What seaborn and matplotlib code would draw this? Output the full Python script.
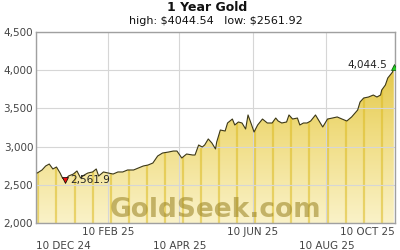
import numpy as np
import pandas as pd
import matplotlib
matplotlib.use("Agg")
import matplotlib.pyplot as plt
import matplotlib.dates as mdates
from matplotlib.colors import LinearSegmentedColormap
import seaborn as sns

# ---------------- data ----------------
dates = [
    "2024-12-13", "2024-12-17", "2024-12-20", "2024-12-23", "2024-12-26", "2024-12-29",
    "2025-01-01", "2025-01-03", "2025-01-05", "2025-01-08", "2025-01-12", "2025-01-15",
    "2025-01-18", "2025-01-21", "2025-01-24", "2025-01-28", "2025-01-31", "2025-02-02",
    "2025-02-06", "2025-02-10", "2025-02-14", "2025-02-18", "2025-02-22", "2025-02-26",
    "2025-03-03", "2025-03-07", "2025-03-11", "2025-03-15", "2025-03-19", "2025-03-23",
    "2025-03-27", "2025-04-01", "2025-04-05", "2025-04-08", "2025-04-12", "2025-04-16",
    "2025-04-21", "2025-04-23", "2025-04-26", "2025-04-29", "2025-05-01", "2025-05-04",
    "2025-05-07", "2025-05-10", "2025-05-11", "2025-05-14", "2025-05-18", "2025-05-20",
    "2025-05-24", "2025-05-26", "2025-05-29", "2025-06-01", "2025-06-04", "2025-06-06",
    "2025-06-09", "2025-06-11", "2025-06-14", "2025-06-18", "2025-06-22", "2025-06-26",
    "2025-06-29", "2025-07-01", "2025-07-04", "2025-07-08", "2025-07-10", "2025-07-13",
    "2025-07-17", "2025-07-19", "2025-07-22", "2025-07-25", "2025-07-28", "2025-08-01",
    "2025-08-05", "2025-08-07", "2025-08-11", "2025-08-15", "2025-08-19", "2025-08-23",
    "2025-08-27", "2025-08-31", "2025-09-05", "2025-09-07", "2025-09-10", "2025-09-14",
    "2025-09-18", "2025-09-21", "2025-09-24", "2025-09-25", "2025-09-28", "2025-09-30",
    "2025-10-04", "2025-10-05",
]
prices = [
    2654, 2694, 2746, 2772, 2707, 2733,
    2654, 2589, 2561.92, 2615, 2641, 2681,
    2589, 2628, 2654, 2668, 2707, 2615,
    2668, 2654, 2641, 2668, 2668, 2694,
    2694, 2720, 2746, 2759, 2785, 2877,
    2916, 2929, 2942, 2942, 2851, 2903,
    2890, 2890, 3021, 2995, 3021, 3100,
    3047, 2969, 3060, 3217, 3204, 3309,
    3361, 3283, 3322, 3309, 3230, 3414,
    3283, 3191, 3283, 3361, 3309, 3309,
    3374, 3335, 3309, 3322, 3414, 3361,
    3374, 3283, 3309, 3309, 3335, 3414,
    3309, 3257, 3361, 3374, 3388, 3361,
    3335, 3388, 3479, 3584, 3636, 3649,
    3675, 3649, 3675, 3741, 3806, 3898,
    3977, 4044.54,
]
y_ticks = [2000, 2500, 3000, 3500, 4000, 4500]
upper_tick_dates = ["2025-02-10", "2025-06-10", "2025-10-06"]
upper_tick_labels = ["10 FEB 25", "10 JUN 25", "10 OCT 25"]
lower_tick_dates = ["2024-12-12", "2025-04-10", "2025-08-10"]
lower_tick_labels = ["10 DEC 24", "10 APR 25", "10 AUG 25"]
title = "1 Year Gold"
high_val = 4044.54
low_val = 2561.92

# ---------------- figure ----------------
sns.set_style("white")
plt.rcParams["font.family"] = ["DejaVu Sans"]

df = pd.DataFrame({"date": pd.to_datetime(dates), "price": prices})

fig = plt.figure(figsize=(4, 2.5), dpi=100)
ax = fig.add_axes([36 / 400, 27 / 250, 359 / 400, 191 / 250])

xmin = pd.Timestamp("2024-12-12")
xmax = pd.Timestamp("2025-10-06")
ax.set_xlim(xmin, xmax)
ax.set_ylim(2000, 4500)

# gradient fill under the line
poly = ax.fill_between(df["date"], df["price"], 2000, color="none", lw=0)
cmap = LinearSegmentedColormap.from_list("gold", ["#faf2c8", "#efdb7c", "#dcbc2c"])
grad = np.linspace(0, 1, 256).reshape(-1, 1)
x0, x1 = mdates.date2num(xmin), mdates.date2num(xmax)
img = ax.imshow(grad, cmap=cmap, origin="lower", aspect="auto",
                extent=[x0, x1, 2000, 4500], zorder=0.8)
img.set_clip_path(poly.get_paths()[0], transform=ax.transData)

# darker vertical stripes inside the fill
for d in pd.date_range("2024-12-14", "2025-10-06", freq="15D"):
    vl = ax.axvline(d, color="#dcbb22", lw=1.6, alpha=0.55, zorder=0.9)
    vl.set_clip_path(poly.get_paths()[0], transform=ax.transData)

ax.set_ylim(2000, 4500)
ax.set_xlim(xmin, xmax)

sns.lineplot(data=df, x="date", y="price", ax=ax, color="#3c3818", lw=0.8, zorder=3)

# high / low markers
hi = df.loc[df["price"].idxmax()]
lo = df.loc[df["price"].idxmin()]
ax.plot(hi["date"], hi["price"], marker="^", ms=4.5, color="#22cc22", mec="#105010", mew=0.5, zorder=4)
ax.plot(lo["date"], lo["price"], marker="v", ms=4.5, color="#ee1010", mec="#000000", mew=0.5, zorder=4)
ax.annotate(f"{high_val:,.1f}", (hi["date"], hi["price"]), xytext=(-5, 1),
            textcoords="offset points", ha="right", va="center", fontsize=7.5, color="#222222")
ax.annotate(f"{low_val:,.1f}", (lo["date"], lo["price"]), xytext=(4, 0),
            textcoords="offset points", ha="left", va="center", fontsize=7.5, color="#222222")

# watermark
ax.text(0.501, 0.033, "GoldSeek.com", transform=ax.transAxes, ha="center", va="baseline",
        fontsize=19, fontweight="bold", color="#a08a2c", alpha=0.6, zorder=2.5)

# axes styling
ax.set_yticks(y_ticks)
ax.set_yticklabels([f"{v:,}" for v in y_ticks])
ax.set_xticks(pd.to_datetime(upper_tick_dates))
ax.set_xticklabels(upper_tick_labels)
ax.set_xticks(pd.to_datetime(lower_tick_dates), minor=True)
ax.set_xticklabels(lower_tick_labels, minor=True)
ax.get_xticklabels()[-1].set_ha("right")
ax.get_xticklabels(minor=True)[0].set_ha("left")
ax.tick_params(axis="both", which="both", length=0, labelsize=7.5, colors="#444444")
ax.tick_params(axis="x", which="major", pad=3)
ax.tick_params(axis="x", which="minor", pad=13)
ax.tick_params(axis="y", pad=2)
ax.set_xlabel("")
ax.set_ylabel("")
ax.set_axisbelow("line")
ax.grid(True, which="both", color="#d6d6d6", lw=0.8)
for s in ax.spines.values():
    s.set_color("#a0a0a0")
    s.set_linewidth(1)

fig.text(207 / 400, 1 - 7.5 / 250, title, ha="center", va="center", fontsize=9,
         fontweight="bold", color="#111111")
fig.text(215.5 / 400, 1 - 21 / 250, f"high: \\${high_val}   low: \\${low_val}", ha="center",
         va="center", fontsize=8, color="#111111")

fig.savefig("out.png", dpi=100)
